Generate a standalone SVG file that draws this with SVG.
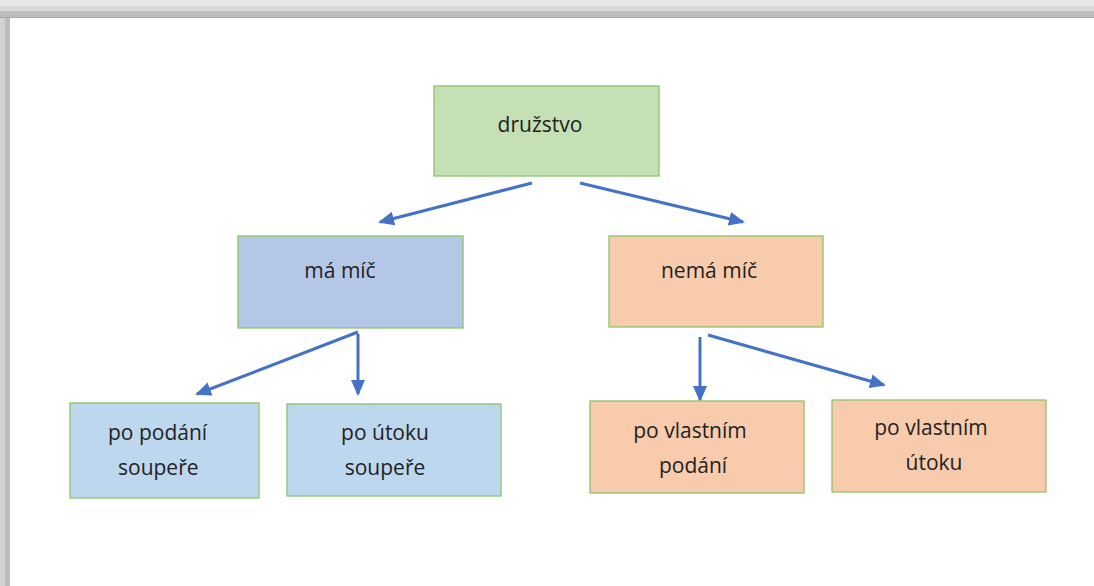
<svg xmlns="http://www.w3.org/2000/svg" width="1094" height="586" viewBox="0 0 1094 586">
<style>
.box{stroke:#8cc46a;stroke-width:1.3}
.t{font-family:"Open Sans","Liberation Sans",sans-serif;font-size:21px;fill:#222}
.c{stroke:#4472c4;stroke-width:3;fill:none;marker-end:url(#ah)}
</style>
<defs>
<marker id="ah" viewBox="0 0 16 16" refX="14" refY="8" markerWidth="16" markerHeight="16" markerUnits="userSpaceOnUse" orient="auto">
<path d="M0,1 L16,8 L0,15 z" fill="#4472c4"/>
</marker>
</defs>
<rect width="1094" height="586" fill="#fff"/>
<g id="frame">
<rect x="0" y="0" width="1094" height="6" fill="#e9e9e9"/>
<rect x="0" y="6" width="1094" height="5" fill="#d9d9d9"/>
<rect x="0" y="11" width="1094" height="6" fill="#bcbcbc"/>
<rect x="0" y="17" width="1094" height="1" fill="#a8a8a8"/>
<rect x="0" y="18" width="5" height="568" fill="#d2d2d2"/>
<rect x="5" y="18" width="5" height="568" fill="#bdbdbd"/>
</g>
<g id="connectors">
<line class="c" x1="532" y1="183" x2="380" y2="222"/>
<line class="c" x1="580" y1="183" x2="743" y2="222"/>
<line class="c" x1="358" y1="332" x2="197" y2="394"/>
<line class="c" x1="358" y1="334" x2="358" y2="394"/>
<line class="c" x1="700" y1="337" x2="700" y2="400"/>
<line class="c" x1="708" y1="335" x2="884" y2="385"/>
</g>
<g id="druzstvo">
<rect class="box" x="434" y="86" width="225" height="90" fill="#c5e0b4"/>
<text class="t" x="540" y="132" text-anchor="middle">družstvo</text>
</g>
<g id="ma-mic">
<rect class="box" x="238" y="236" width="225" height="92" fill="#b4c7e7"/>
<text class="t" x="340" y="278" text-anchor="middle">má míč</text>
</g>
<g id="nema-mic">
<rect class="box" x="609" y="236" width="214" height="91" fill="#f8cbad"/>
<text class="t" x="709" y="278" text-anchor="middle">nemá míč</text>
</g>
<g id="po-podani-soupere">
<rect class="box" x="70" y="403" width="189" height="95" fill="#bdd7ee"/>
<text class="t" x="108" y="440">po podání</text>
<text class="t" x="118" y="475">soupeře</text>
</g>
<g id="po-utoku-soupere">
<rect class="box" x="287" y="404" width="214" height="92" fill="#bdd7ee"/>
<text class="t" x="385" y="440" text-anchor="middle">po útoku</text>
<text class="t" x="385" y="475" text-anchor="middle">soupeře</text>
</g>
<g id="po-vlastnim-podani">
<rect class="box" x="590" y="401" width="214" height="92" fill="#f8cbad"/>
<text class="t" x="690" y="438" text-anchor="middle">po vlastním</text>
<text class="t" x="693" y="473" text-anchor="middle">podání</text>
</g>
<g id="po-vlastnim-utoku">
<rect class="box" x="832" y="400" width="214" height="92" fill="#f8cbad"/>
<text class="t" x="931" y="435" text-anchor="middle">po vlastním</text>
<text class="t" x="934" y="470" text-anchor="middle">útoku</text>
</g>
</svg>
